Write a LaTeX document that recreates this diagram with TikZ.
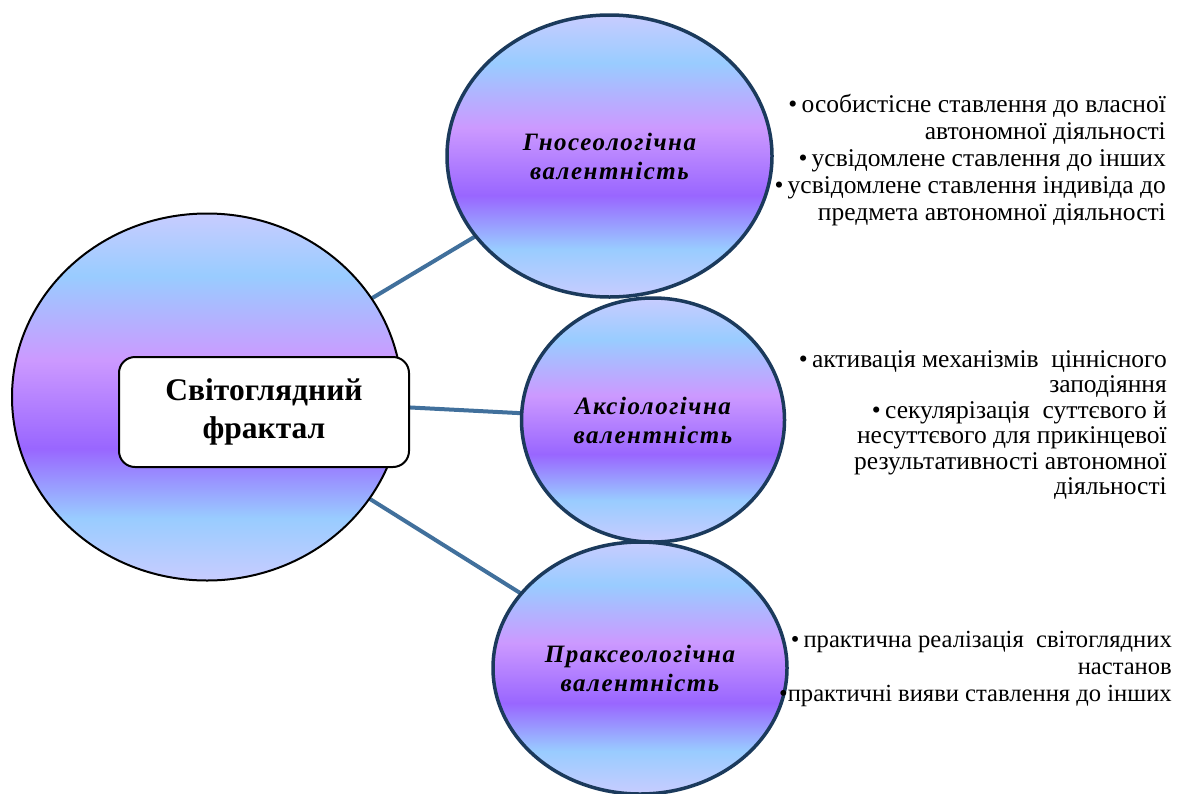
\documentclass[tikz,border=0pt]{standalone}
\usepackage{fontspec}
\setmainfont{Liberation Serif}
\usetikzlibrary{shapes.geometric,backgrounds}

\definecolor{bandPeri}{HTML}{C8CCFF}
\definecolor{bandSky}{HTML}{99CCFF}
\definecolor{bandLilac}{HTML}{CC99FF}
\definecolor{bandViolet}{HTML}{9966FF}
\definecolor{rimNavy}{HTML}{1B3A5C}
\definecolor{linkBlue}{HTML}{41709C}

% horizontal colour bands, top to bottom: periwinkle, sky, lilac, violet, sky, periwinkle
\pgfdeclareverticalshading{bands}{100bp}{%
  color(0bp)=(bandPeri); color(25bp)=(bandPeri);
  color(33.5bp)=(bandSky); color(43bp)=(bandViolet);
  color(55bp)=(bandLilac); color(66.5bp)=(bandSky);
  color(75bp)=(bandPeri); color(100bp)=(bandPeri)}

% right-aligned lines with a fixed distance between baselines;
% the baseline of the whole block is that of its first line
\newcommand\rightlines[2]{\vtop{\baselineskip=#1\lineskiplimit=-\maxdimen\lineskip=0pt
  \halign{\hfil##\cr#2\crcr}}}

\tikzset{
  hub/.style={ellipse, inner sep=0pt, shading=bands, draw=black, line width=2pt},
  valence/.style={ellipse, inner sep=0pt, shading=bands, draw=rimNavy, line width=3.5pt,
    align=center, font=\fontsize{25}{29}\selectfont\bfseries\itshape\addfontfeatures{LetterSpace=6}},
  titlebox/.style={rectangle, rounded corners=16pt, draw=black, line width=2pt, fill=white,
    align=center, font=\fontsize{31.5}{38}\selectfont\bfseries},
  link/.style={draw=linkBlue, line width=4pt},
  notes/.style={anchor=base east, inner sep=0pt, font=\fontsize{25.5}{27}\selectfont}
}

\begin{document}
\begin{tikzpicture}[x=1pt, y=-1pt]
\useasboundingbox (0,0) rectangle (1177,793);

% central fractal circle with its title
\node[hub, minimum width=390pt, minimum height=367pt] (svit) at (207,397) {};
\node[titlebox, minimum width=290pt, minimum height=110pt] (title) at (264,412)
  {Світоглядний\\фрактал};

% three valences
\node[valence, minimum width=325pt, minimum height=282pt] (gno) at (609.5,156)
  {Гносеологічна\\валентність};
\node[valence, minimum width=263pt, minimum height=244pt] (aks) at (653,420)
  {Аксіологічна\\валентність};
\node[valence, minimum width=294pt, minimum height=252pt] (prak) at (640,668)
  {Праксеологічна\\валентність};

% connectors behind the circles
\begin{scope}[on background layer]
  \draw[link] (svit.center) -- (gno.center);
  \draw[link] (svit.center) -- (aks.center);
  \draw[link] (svit.center) -- (prak.center);
\end{scope}

% notes beside each valence
\node[notes] (gnoNotes) at (1166,112) {\rightlines{27pt}{%
•\,особистісне ставлення до власної\cr
автономної діяльності\cr
•\,усвідомлене ставлення до інших\cr
•\,усвідомлене ставлення індивіда до\cr
предмета автономної діяльності}};

\node[notes] (aksNotes) at (1167,367) {\rightlines{25.5pt}{%
•\,активація механізмів\ \ ціннісного\cr
заподіяння\cr
•\,секулярізація\ \ суттєвого й\cr
несуттєвого для прикінцевої\cr
результативності автономної\cr
діяльності}};

\node[notes, font=\fontsize{24.6}{27}\selectfont] (prakNotes) at (1172,647) {\rightlines{27pt}{%
•\,практична реалізація\ \ світоглядних\cr
настанов\cr
•практичні вияви ставлення до інших}};
\end{tikzpicture}
\end{document}
